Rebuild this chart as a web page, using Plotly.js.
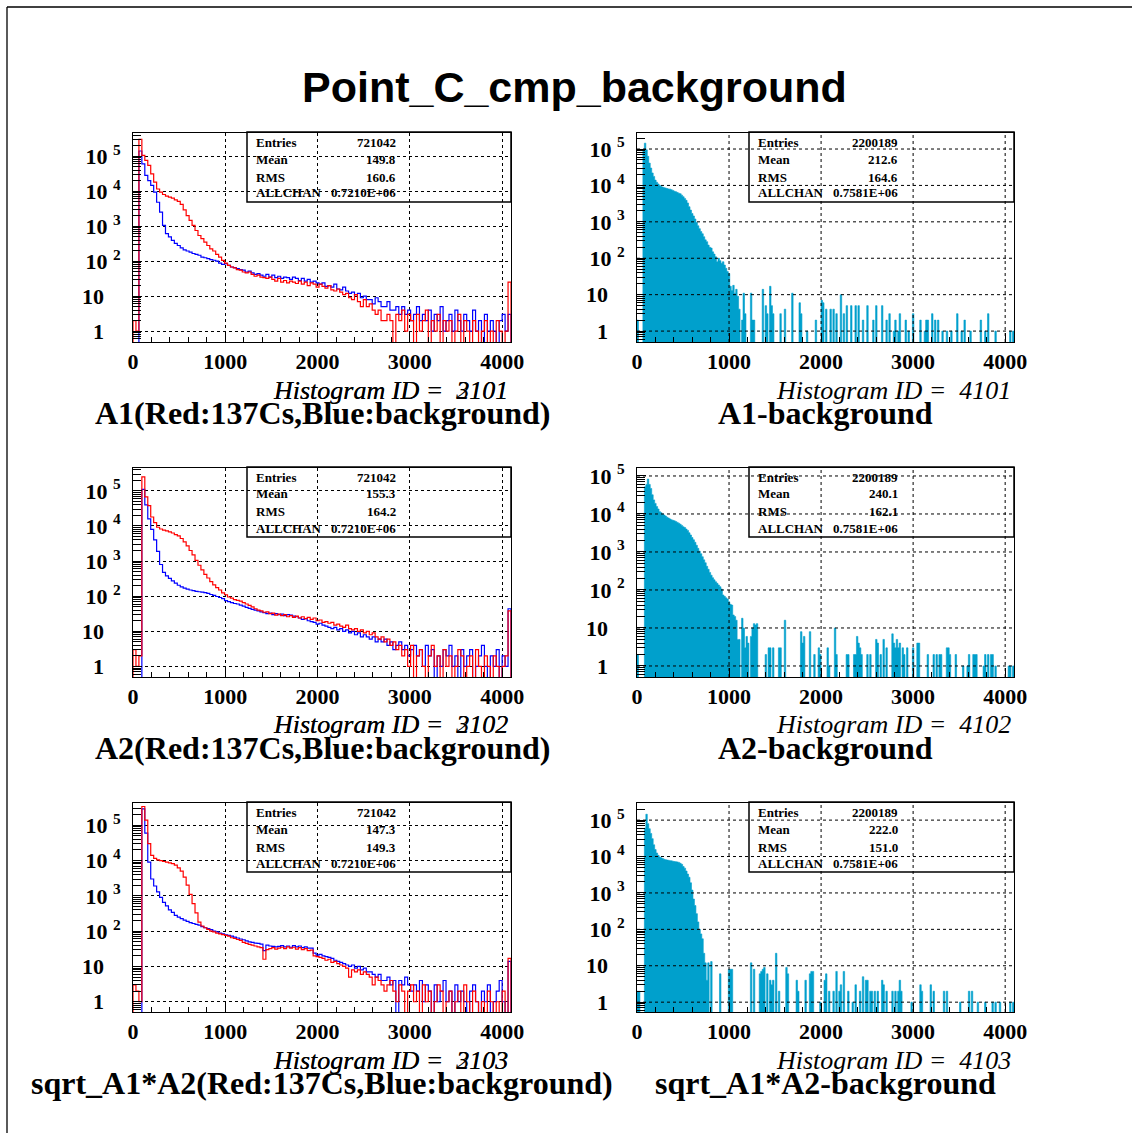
<!DOCTYPE html>
<html><head><meta charset="utf-8">
<script src="https://cdn.plot.ly/plotly-3.0.1.min.js"></script>
<style>html,body{margin:0;padding:0;background:#fff;}#chart{width:1132px;height:1133px;}</style>
</head><body><div id="chart"></div>
<script>
// ---------------- DATA ----------------
const BIN_LINE = 32;   // channels per bin, red/blue histograms
const BIN_FILL = 16;   // channels per bin, difference histograms
const X_MAX = 4096;
const xTicks = [0, 1000, 2000, 3000, 4000];
const yTicks = [1, 10, 100, 1000, 10000, 100000];
const yTickText = ['1', '10', '10', '10', '10', '10'];
const yTickSup = ['', '', '2', '3', '4', '5'];

// A1 : red = 137Cs, blue = background (128 bins of 32 channels)
const a1Cs = [2,1,300000,105000,76000,54000,31000,18000,11500,9300,8000,7200,6700,6300,5600,5100,
4200,2900,2000,1450,1050,750,540,440,350,280,225,195,155,130,105,88,
76,68,64,57,55,49,46,49,42,37,40,35,34,32,35,30,
27,32,25,28,24,27,25,23,27,22,25,20,24,22,18,22,
19,17,20,15,14,16,13,11,12,9,8,11,7,5,8,5,
6,4,3,4,2,2,3,2,0,3,2,4,1,3,2,0,
3,1,2,4,0,2,1,3,0,2,1,2,0,1,3,0,
2,1,0,2,1,0,1,2,0,1,0,2,1,0,1,25];
const a1Bg = [0,0,140000,60000,28000,20000,14500,9300,4800,2500,1050,610,490,390,320,280,
240,210,195,180,165,155,147,130,125,118,110,106,100,88,81,85,
76,68,65,61,57,55,49,52,46,42,44,40,37,42,35,40,
34,37,32,35,34,30,35,32,28,32,27,30,25,27,24,22,
24,19,20,18,22,16,15,18,14,12,13,11,12,9,10,8,
8,6,9,7,5,5,7,4,4,5,3,5,3,4,2,3,
5,2,3,2,4,1,3,2,5,1,2,3,1,4,2,1,
3,2,1,4,1,2,0,3,1,2,1,0,2,3,1,3];
// A2
const a2Cs = [3,1,2,250000,67000,38000,18000,12500,9200,8200,7600,7200,6800,6300,5700,5200,
4400,3500,2700,2000,1500,1050,760,560,420,330,260,210,175,150,125,110,
95,88,80,76,72,66,60,55,50,44,40,38,35,36,32,33,
29,31,28,30,26,28,25,27,24,26,23,25,22,24,20,21,
18,19,17,18,15,16,14,13,15,12,11,12,10,11,9,10,
8,9,7,6,7,5,6,4,5,3,4,2,3,1,4,0,
2,3,1,0,2,4,1,2,0,3,1,2,0,1,3,2,
0,1,2,0,3,1,0,2,1,0,2,1,0,1,2,38];
const a2Bg = [0,0,0,110000,40000,16000,8000,4000,1900,800,480,380,320,275,235,205,
185,170,160,150,145,138,134,130,126,120,112,105,98,92,85,75,
70,66,62,60,56,52,48,45,42,40,38,36,34,32,33,30,
32,30,31,28,30,29,27,26,24,22,23,20,19,18,16,17,
15,14,13,12,13,11,12,10,11,9,10,8,9,7,8,7,
6,7,5,6,5,6,4,5,3,4,5,3,4,2,3,4,
2,3,1,4,2,3,0,2,1,3,2,4,1,2,0,3,
1,2,3,0,1,2,4,1,0,2,1,3,0,2,1,44];
// sqrt(A1*A2)
const sqCs = [3,2,1,340000,140000,30000,14000,11500,10500,10000,9400,9000,8600,8200,7400,6200,
5000,3400,2000,1100,600,330,180,140,125,112,100,95,88,84,80,76,
72,65,62,58,55,48,45,42,40,38,36,34,16,30,32,34,
31,33,35,32,36,33,35,31,34,30,32,28,29,20,19,18,
17,15,16,13,14,12,11,10,9,5,8,7,8,6,7,6,
5,3,5,4,3,2,3,4,2,1,3,2,0,2,3,1,
2,0,3,1,2,0,1,3,2,0,1,2,0,1,2,0,
3,1,0,2,1,0,1,0,2,1,0,1,0,2,0,17];
const sqBg = [0,0,0,290000,60000,9000,3000,1900,1300,900,650,520,400,340,280,250,
225,205,190,175,165,155,148,135,125,118,110,100,95,88,84,78,
76,72,68,64,60,57,53,50,48,46,45,43,28,40,38,37,
36,37,39,36,38,35,39,36,38,34,36,33,33,24,21,22,
20,19,18,17,15,14,13,12,11,10,11,9,10,8,9,7,
7,6,5,6,4,4,5,3,4,0,4,3,5,3,2,3,
2,4,1,3,2,0,3,1,2,4,1,2,0,3,1,2,
1,0,2,3,1,0,2,1,3,0,1,2,4,1,0,14];

// Difference histograms (256 bins of 16 channels)
const a1Diff = [2,0,0,0,95000,145000,95000,63000,41000,30000,22000,17700,14000,12200,11000,10000,
9300,9000,8700,8500,8200,8000,7900,7600,7300,6900,6700,6400,6100,5900,5400,4900,
4400,3900,3300,2600,2100,1700,1450,1200,960,780,650,540,470,390,320,285,
230,200,190,150,130,110,80,100,86,73,80,65,53,43,38,17,
13,18,11,14,9,4,0,2,11,3,0,0,0,11,2,2,
0,0,0,0,0,14,0,5,3,0,17,5,3,0,0,0,
0,3,0,0,4,0,0,0,0,11,0,0,0,0,6,3,
0,0,0,1,0,0,0,0,0,2,0,0,0,7,6,0,
4,0,0,4,0,4,0,3,0,0,10,0,3,0,5,0,
0,5,0,0,5,0,5,0,0,2,0,0,5,0,0,0,
2,0,5,0,0,0,5,0,0,2,0,3,0,0,1,2,
0,1,3,0,0,0,2,0,1,0,0,3,0,0,0,0,
2,0,0,1,2,2,0,0,3,0,2,0,2,0,0,1,
0,0,1,0,0,1,0,0,0,3,0,0,1,0,2,0,
0,0,1,0,0,0,0,0,0,2,0,0,1,0,3,0,
0,0,0,1,0,0,0,0,0,0,0,0,0,1,0,1];
const a2Diff = [2,0,0,0,0,52000,60000,83000,60000,47000,32000,23500,19000,15700,13500,11500,
10800,10000,9400,8800,8200,7800,7400,7000,6800,6600,6300,6000,5700,5350,5000,4600,
4400,4000,3700,3200,2800,2400,2100,1800,1500,1250,1050,900,750,620,520,420,
350,290,245,210,185,165,150,135,122,106,74,68,62,58,49,42,
40,22,20,16,5,5,0,18,10,3,6,4,0,6,10,13,
12,13,0,0,0,0,0,2,0,3,3,0,3,0,0,0,
3,3,0,0,16,0,0,0,0,0,0,0,0,0,0,8,
4,6,0,0,0,8,0,0,2,0,0,3,2,0,0,0,
0,3,1,0,0,0,10,2,0,0,0,0,0,0,2,2,
0,0,0,2,2,6,4,3,2,0,0,0,2,0,2,0,
0,0,5,4,0,2,0,5,0,3,0,0,0,7,4,3,
5,3,4,0,3,2,0,3,0,0,0,3,0,0,4,4,
0,0,0,0,0,2,0,0,0,2,0,2,0,2,2,0,
0,0,3,3,2,0,0,0,2,0,0,0,0,1,0,0,
1,2,0,0,2,2,2,0,0,0,0,1,2,0,2,0,
2,2,0,1,0,0,0,0,0,0,0,0,1,1,0,1];
const sqDiff = [2,2,0,0,0,60000,145000,80000,58000,43000,31000,21000,15500,12500,10800,9700,
9200,8800,8400,8200,8000,7900,7700,7600,7400,7300,7200,7100,6900,6500,6100,5300,
4800,4000,3300,2700,1900,1200,680,450,270,160,100,75,55,22,12,4,
12,0,13,0,0,0,0,0,6,0,0,0,0,0,8,8,
8,0,0,0,0,0,0,0,0,0,0,0,0,12,0,8,
0,0,0,6,7,8,9,0,6,0,4,3,4,0,22,0,
2,0,0,0,0,9,6,0,0,0,0,0,4,2,0,0,
0,0,4,0,0,6,7,7,0,0,0,0,1,0,0,4,
6,0,2,0,0,2,0,7,0,2,3,0,7,0,0,2,
0,0,1,0,3,0,0,2,0,5,0,4,4,0,2,2,
0,2,0,2,0,0,4,3,0,2,0,0,0,2,0,2,
0,2,4,2,0,0,0,0,0,0,1,0,0,0,0,0,
3,2,0,0,0,0,0,3,0,2,0,0,0,0,0,0,
2,0,2,0,0,0,0,0,0,0,0,1,0,0,0,0,
0,2,0,2,0,0,0,1,0,0,0,0,1,0,0,0,
0,1,0,1,0,0,1,0,0,0,0,0,0,1,0,1];

// statistics boxes
const statLabels = ['Entries', 'Mean', 'RMS', 'ALLCHAN'];
const statsA1 = ['721042', '149.8', '160.6', '0.7210E+06'];
const statsA1d = ['2200189', '212.6', '164.6', '0.7581E+06'];
const statsA2 = ['721042', '155.3', '164.2', '0.7210E+06'];
const statsA2d = ['2200189', '240.1', '162.1', '0.7581E+06'];
const statsSq = ['721042', '147.3', '149.3', '0.7210E+06'];
const statsSqd = ['2200189', '222.0', '151.0', '0.7581E+06'];

const histIds = ['2101', '4101', '2102', '4102', '2103', '4103'];
const histIdsOver = ['3101', '', '3102', '', '3103', ''];
const captions = ['A1(Red:137Cs,Blue:background)', 'A1-background',
  'A2(Red:137Cs,Blue:background)', 'A2-background',
  'sqrt_A1*A2(Red:137Cs,Blue:background)', 'sqrt_A1*A2-background'];
const mainTitle = 'Point_C_cmp_background';

// ---------------- LAYOUT ----------------
const W = 1132, H = 1133;
const PX = v => v / W, PY = v => 1 - v / H;
const FLOOR = 0.01; // empty bins drop below the axis bottom
const RED = '#ff0000', BLUE = '#0000ff', CYAN = 'rgb(0,160,204)';
const SERIF = 'Liberation Serif';

const colX = [[133, 511], [637, 1014]];
const rowY = [[133, 342], [468, 677], [803, 1012]];
const yRanges = [[-0.31, 5.66], [-0.30, 5.44], [-0.30, 5.65], [-0.29, 5.21], [-0.29, 5.63], [-0.27, 5.47]];

const panels = [
  {cs: a1Cs, bg: a1Bg, stats: statsA1},
  {diff: a1Diff, stats: statsA1d},
  {cs: a2Cs, bg: a2Bg, stats: statsA2},
  {diff: a2Diff, stats: statsA2d},
  {cs: sqCs, bg: sqBg, stats: statsSq},
  {diff: sqDiff, stats: statsSqd}
];

function stepXY(vals, bw) {
  const x = [0], y = [FLOOR];
  for (let i = 0; i < vals.length; i++) { x.push(i * bw); y.push(vals[i] > 0 ? vals[i] : FLOOR); }
  x.push(vals.length * bw); y.push(vals[vals.length - 1] > 0 ? vals[vals.length - 1] : FLOOR);
  x.push(vals.length * bw); y.push(FLOOR);
  return {x, y};
}

const traces = [];
const annotations = [];
const shapes = [
  {type: 'line', xref: 'paper', yref: 'paper', x0: PX(7), x1: 1, y0: PY(7), y1: PY(7), line: {color: 'black', width: 1.3}},
  {type: 'line', xref: 'paper', yref: 'paper', x0: PX(7), x1: PX(7), y0: PY(7), y1: 0, line: {color: 'black', width: 1.3}}
];
const layout = {
  width: W, height: H, margin: {l: 0, r: 0, t: 0, b: 0},
  paper_bgcolor: 'white', plot_bgcolor: 'rgba(0,0,0,0)', showlegend: false,
  font: {family: SERIF, color: 'black'}
};

annotations.push({xref: 'paper', yref: 'paper', x: PX(574), y: PY(87), xanchor: 'center', yanchor: 'middle',
  showarrow: false, text: '<b>' + mainTitle + '</b>', font: {family: 'Liberation Sans', size: 43, color: 'black'}});

panels.forEach((p, k) => {
  const row = Math.floor(k / 2), col = k % 2;
  const xa = k === 0 ? 'x' : 'x' + (k + 1);
  const ya = k === 0 ? 'y' : 'y' + (k + 1);
  const [xl, xr] = colX[col];
  const [yt, yb] = rowY[row];
  const yr = yRanges[k];
  const isDiff = !!p.diff;

  const minorVals = [];
  for (let d = -1; d <= 6; d++) for (let m = 2; m <= 9; m++) {
    const v = m * Math.pow(10, d);
    if (Math.log10(v) > yr[0] && Math.log10(v) < yr[1]) minorVals.push(v);
  }
  const tt = yTickText.map((t, i) => yTickSup[i] ? t + '\u00a0<sup>' + yTickSup[i] + '</sup>' : t + '\u00a0\u00a0\u00a0');

  layout[xa === 'x' ? 'xaxis' : 'xaxis' + (k + 1)] = {
    domain: [PX(xl), PX(xr)], range: [0, X_MAX], anchor: ya, type: 'linear',
    tickmode: 'array', tickvals: xTicks, ticktext: xTicks.map(String),
    ticks: 'inside', ticklen: 9, tickwidth: 1, tickcolor: 'black',
    showline: true, mirror: true, linecolor: 'black', linewidth: 1,
    showgrid: !isDiff, gridcolor: 'black', griddash: 'dot', gridwidth: 1, zeroline: false,
    tickfont: {family: SERIF, size: 22, color: 'black', weight: 700},
    ticklabelstandoff: 0, layer: 'above traces',
    minor: {tickmode: 'linear', tick0: 0, dtick: 200, ticks: 'inside', ticklen: 5, tickcolor: 'black', showgrid: false}
  };
  layout[ya === 'y' ? 'yaxis' : 'yaxis' + (k + 1)] = {
    domain: [PY(yb), PY(yt)], range: yr, anchor: xa, type: 'log',
    tickmode: 'array', tickvals: yTicks, ticktext: tt,
    ticks: 'inside', ticklen: 9, tickwidth: 1, tickcolor: 'black',
    showline: true, mirror: true, linecolor: 'black', linewidth: 1,
    showgrid: !isDiff, gridcolor: 'black', griddash: 'dot', gridwidth: 1, zeroline: false,
    tickfont: {family: SERIF, size: 22, color: 'black', weight: 700},
    ticklabelstandoff: 7, layer: 'above traces',
    minor: {tickmode: 'array', tickvals: minorVals, ticks: 'inside', ticklen: 8, tickcolor: 'black', showgrid: false}
  };

  if (isDiff) {
    const s = stepXY(p.diff, BIN_FILL);
    traces.push({type: 'scatter', mode: 'lines', x: s.x, y: s.y, xaxis: xa, yaxis: ya,
      line: {color: CYAN, width: 0.6, shape: 'hv'}, fill: 'toself', fillcolor: CYAN, hoverinfo: 'skip'});
    // dotted grid drawn above the filled histogram
    xTicks.slice(1).forEach(v => shapes.push({type: 'line', layer: 'above', xref: xa, yref: ya + ' domain',
      x0: v, x1: v, y0: 0, y1: 1, line: {color: 'black', width: 1, dash: 'dot'}}));
    yTicks.forEach(v => { if (Math.log10(v) < yr[1]) shapes.push({type: 'line', layer: 'above', xref: xa + ' domain', yref: ya,
      x0: 0, x1: 1, y0: v, y1: v, line: {color: 'black', width: 1, dash: 'dot'}}); });
  } else {
    const b = stepXY(p.bg, BIN_LINE), r = stepXY(p.cs, BIN_LINE);
    traces.push({type: 'scatter', mode: 'lines', x: b.x, y: b.y, xaxis: xa, yaxis: ya,
      line: {color: BLUE, width: 1.2, shape: 'hv'}, hoverinfo: 'skip'});
    traces.push({type: 'scatter', mode: 'lines', x: r.x, y: r.y, xaxis: xa, yaxis: ya,
      line: {color: RED, width: 1.2, shape: 'hv'}, hoverinfo: 'skip'});
  }

  // statistics box
  const bx0 = col === 0 ? 247 : 749;
  shapes.push({type: 'rect', layer: 'above', xref: 'paper', yref: 'paper', x0: PX(bx0), x1: PX(xr), y0: PY(yt + 69), y1: PY(yt - 1),
    line: {color: 'black', width: 1.5}, fillcolor: 'rgba(0,0,0,0)'});
  const rowsOff = [9, 26, 44, 60];
  statLabels.forEach((lab, i) => {
    annotations.push({xref: 'paper', yref: 'paper', x: PX(bx0 + 7), y: PY(yt + rowsOff[i]), xanchor: 'left', yanchor: 'middle',
      showarrow: false, text: '<b>' + lab + '</b>', font: {family: SERIF, size: 13, color: 'black'}});
    annotations.push({xref: 'paper', yref: 'paper', x: PX(bx0 + 151), y: PY(yt + rowsOff[i]), xanchor: 'right', yanchor: 'middle',
      showarrow: false, text: '<b>' + p.stats[i] + '</b>', font: {family: SERIF, size: 13, color: 'black'}});
  });

  // histogram id and caption
  const idRight = col === 0 ? 510 : 1013;
  const idY = yb + 48;
  annotations.push({xref: 'paper', yref: 'paper', x: PX(idRight), y: PY(idY), xanchor: 'right', yanchor: 'middle',
    showarrow: false, text: '<i>Histogram ID =\u00a0\u00a0' + histIds[k] + '</i>', font: {family: SERIF, size: 26, color: 'black'}});
  if (histIdsOver[k]) annotations.push({xref: 'paper', yref: 'paper', x: PX(idRight), y: PY(idY), xanchor: 'right', yanchor: 'middle',
    showarrow: false, text: '<i>Histogram ID =\u00a0\u00a0' + histIdsOver[k] + '</i>', font: {family: SERIF, size: 26, color: 'black'}});
  const capX = col === 0 ? 322 : 825;
  annotations.push({xref: 'paper', yref: 'paper', x: PX(capX), y: PY(yb + 71), xanchor: 'center', yanchor: 'middle',
    showarrow: false, text: '<b>' + captions[k] + '</b>', font: {family: SERIF, size: 32, color: 'black'}});
});

layout.annotations = annotations;
layout.shapes = shapes;
Plotly.newPlot('chart', traces, layout, {staticPlot: true});
</script>
</body></html>
